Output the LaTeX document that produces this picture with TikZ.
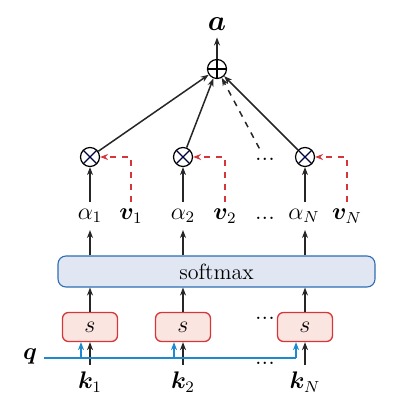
\documentclass[tikz,border=0pt]{standalone}
\usepackage{amsmath}
\usepackage{amssymb}
\usepackage{bm}
\usetikzlibrary{arrows.meta}
\definecolor{sred}{HTML}{D4373A}
\definecolor{sredfill}{HTML}{FBE5E0}
\definecolor{smblue}{HTML}{2E6DB4}
\definecolor{smfill}{HTML}{E0E7F3}
\definecolor{qblue}{HTML}{1E88D0}
\tikzset{
	arr/.style={->, color=black!85, line width=0.75pt},
	vdash/.style={->, color=sred, dashed, line width=0.7pt},
	qarr/.style={->, color=qblue, line width=0.85pt},
	lbl/.style={font=\large},
	dotsnode/.style={inner sep=1pt, font=\large},
	plusnode/.style={circle, draw, line width=0.6pt, minimum size=9.5pt, inner sep=0pt,
		path picture={\draw[line width=0.6pt] (path picture bounding box.north) -- (path picture bounding box.south) (path picture bounding box.west) -- (path picture bounding box.east);}},
	timesnode/.style={circle, draw, line width=0.6pt, minimum size=9.5pt, inner sep=0pt,
		path picture={\draw[line width=0.6pt, color=black!75!blue] (path picture bounding box.north west) -- (path picture bounding box.south east) (path picture bounding box.south west) -- (path picture bounding box.north east);}},
	scorebox/.style={draw=sred, fill=sredfill, rounded corners=3pt, line width=0.65pt, minimum width=27.5pt, minimum height=14.5pt, inner sep=0pt, font=\large},
	smbox/.style={draw=smblue, fill=smfill, rounded corners=4pt, line width=0.55pt, minimum width=158.5pt, minimum height=15.5pt, inner sep=0pt, font=\fontsize{11}{13}\selectfont}
}
\begin{document}
\begin{tikzpicture}[x=0.5pt, y=-0.5pt, >={Stealth[length=4pt,width=3pt]}]
	\useasboundingbox (0,0) rectangle (414,415);
	\node[font=\Large] (a) at (217,24) {$\bm{a}$};
	\node[plusnode] (plus) at (217,69) {};
	\node[timesnode] (m1) at (90,157) {};
	\node[timesnode] (m2) at (183,157) {};
	\node[timesnode] (mN) at (305,157) {};
	\node[dotsnode] (dtop) at (265,159) {...};
	\node[lbl] (al1) at (90,216) {$\alpha_1$};
	\node[lbl] (al2) at (183,216) {$\alpha_2$};
	\node[lbl] (alN) at (304,216) {$\alpha_N$};
	\node[lbl] (v1) at (131,216) {$\bm{v}_1$};
	\node[lbl] (v2) at (225,216) {$\bm{v}_2$};
	\node[lbl] (vN) at (347,216) {$\bm{v}_N$};
	\node[dotsnode] (dmid) at (265,218) {...};
	\node[smbox] (softmax) at (216.5,271.5) {softmax};
	\node[scorebox] (s1) at (90,327) {$s$};
	\node[scorebox] (s2) at (183,327) {$s$};
	\node[scorebox] (sN) at (305,327) {$s$};
	\node[dotsnode] (dlow) at (265,318) {...};
	\node[lbl] (q) at (30,356) {$\bm{q}$};
	\node[lbl] (k1) at (90,382) {$\bm{k}_1$};
	\node[lbl] (k2) at (183,382) {$\bm{k}_2$};
	\node[lbl] (kN) at (305,382) {$\bm{k}_N$};
	\node[dotsnode] (dbot) at (265,363) {...};
	\coordinate (b1) at (81,358);
	\coordinate (b2) at (174,358);
	\coordinate (bN) at (296,358);

	\draw[arr] (plus) -- (a);
	\draw[arr] (m1) -- (plus);
	\draw[arr] (m2) -- (plus);
	\draw[arr] (mN) -- (plus);
	\draw[arr, dashed, shorten <=4pt] (dtop) -- (plus);
	\draw[arr] (al1) -- (m1);
	\draw[arr] (al2) -- (m2);
	\draw[arr] (alN.north -| mN) -- (mN);
	\draw[vdash] (v1) |- (m1);
	\draw[vdash] (v2) |- (m2);
	\draw[vdash] (vN) |- (mN);
	\draw[arr] (softmax.north -| al1) -- (al1);
	\draw[arr] (softmax.north -| al2) -- (al2);
	\draw[arr] (softmax.north -| mN) -- (alN.south -| mN);
	\draw[arr] (s1) -- (softmax.south -| s1);
	\draw[arr] (s2) -- (softmax.south -| s2);
	\draw[arr] (sN) -- (softmax.south -| sN);
	\draw[arr] (k1) -- (s1);
	\draw[arr] (k2) -- (s2);
	\draw[arr] (kN) -- (sN);
	\draw[color=qblue, line width=0.85pt] (q.east |- b1) -- (bN);
	\draw[qarr] (b1) -- (s1.south -| b1);
	\draw[qarr] (b2) -- (s2.south -| b2);
	\draw[qarr] (bN) -- (sN.south -| bN);
\end{tikzpicture}
\end{document}
